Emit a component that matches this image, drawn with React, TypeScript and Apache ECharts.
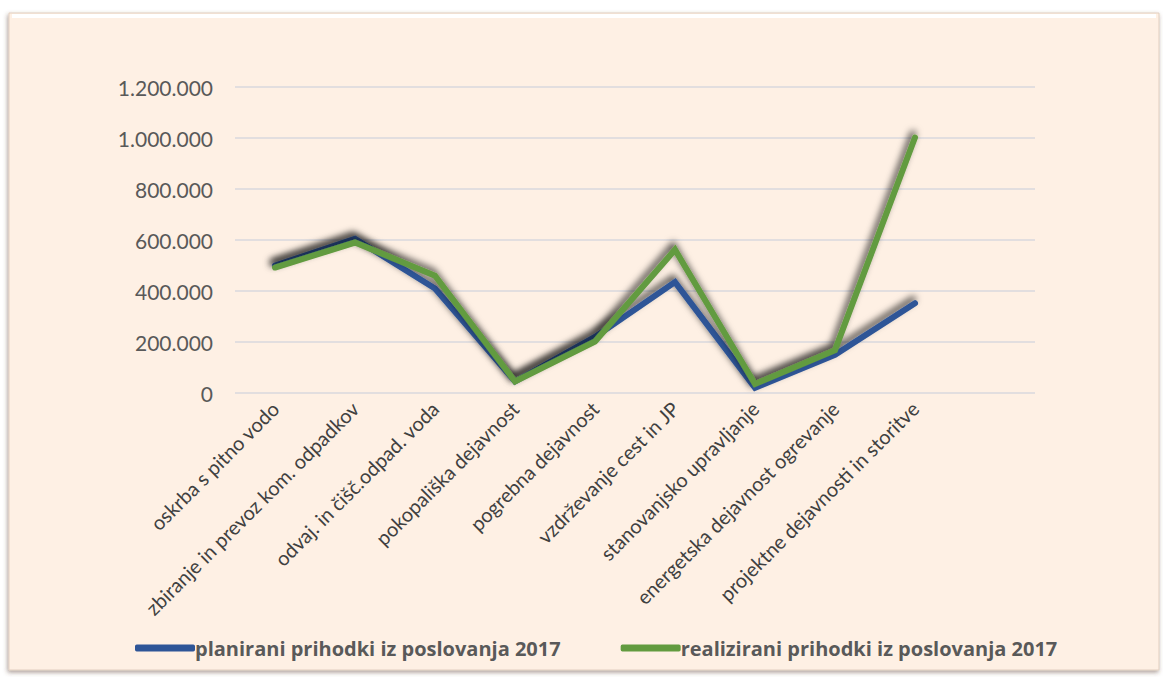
import React, { useEffect, useRef } from "react";
import * as echarts from "echarts";

const categories = [
  "oskrba s pitno vodo",
  "zbiranje in prevoz kom. odpadkov",
  "odvaj. in čišč.odpad. voda",
  "pokopališka dejavnost",
  "pogrebna dejavnost",
  "vzdrževanje cest in JP",
  "stanovanjsko upravljanje",
  "energetska dejavnost ogrevanje",
  "projektne dejavnosti in storitve",
  "",
];
const planirani = [500000, 605000, 410000, 45000, 220000, 435000, 20000, 150000, 352000, null];
const realizirani = [492000, 590000, 460000, 45000, 202000, 562000, 35000, 168000, 1002000, null];
const seriesNames = [
  "planirani prihodki iz poslovanja 2017",
  "realizirani prihodki iz poslovanja 2017",
];

const fmt = (v: number) => String(Math.round(v)).replace(/\B(?=(\d{3})+(?!\d))/g, ".");

export default function App() {
  const ref = useRef<HTMLDivElement>(null);
  useEffect(() => {
    document.body.style.margin = "0";
    const chart = echarts.init(ref.current!, null, { renderer: "svg" });
    const shadow = {
      shadowColor: "rgba(0,0,0,0.7)",
      shadowBlur: 7,
      shadowOffsetX: -2,
      shadowOffsetY: -4,
    };
    chart.setOption({
      animation: false,
      backgroundColor: "#ffffff",
      textStyle: { fontFamily: "Lato, 'Open Sans', sans-serif" },
      graphic: [
        {
          type: "rect",
          z: -10,
          shape: { x: 9, y: 13, width: 1150, height: 657 },
          style: {
            fill: "#FEF0E4",
            stroke: "#e2cfc0",
            lineWidth: 1,
            shadowColor: "rgba(90,60,50,0.5)",
            shadowBlur: 4,
            shadowOffsetX: -1,
            shadowOffsetY: 2,
          },
        },
        {
          type: "polyline",
          z: -9,
          shape: { points: [[12, 16], [1156, 16]] },
          style: { stroke: "#ffffff", lineWidth: 4 },
        },
      ],
      grid: { left: 235, right: 128, top: 87, bottom: 284, containLabel: false },
      legend: {
        bottom: 14,
        left: 130,
        itemWidth: 60,
        itemHeight: 7,
        itemGap: 60,
        icon: "roundRect",
        textStyle: {
          fontSize: 20,
          fontWeight: "bold",
          color: "#595959",
          fontFamily: "'Liberation Sans Narrow', 'Open Sans', sans-serif",
          padding: [0, 0, 0, -5],
        },
        data: seriesNames,
      },
      xAxis: {
        type: "category",
        data: categories,
        boundaryGap: true,
        axisLine: { show: false },
        axisTick: { show: false },
        axisLabel: {
          rotate: 45,
          interval: 0,
          fontSize: 20,
          color: "#404040",
          margin: 12,
        },
      },
      yAxis: {
        type: "value",
        min: 0,
        max: 1200000,
        interval: 200000,
        axisLine: { show: false },
        axisTick: { show: false },
        splitLine: { lineStyle: { color: "#D9D9DE", width: 1.5 } },
        axisLabel: {
          fontSize: 21,
          color: "#595959",
          margin: 22,
          formatter: (v: number) => fmt(v),
        },
      },
      series: [
        {
          name: seriesNames[0],
          type: "line",
          data: planirani,
          symbol: "none",
          itemStyle: { color: "#2E5597" },
          lineStyle: { color: "#2E5597", width: 6, cap: "round", join: "miter", ...shadow },
        },
        {
          name: seriesNames[1],
          type: "line",
          data: realizirani,
          symbol: "none",
          itemStyle: { color: "#629B3F" },
          lineStyle: { color: "#629B3F", width: 6, cap: "round", join: "miter", ...shadow },
        },
      ],
    });
    return () => chart.dispose();
  }, []);
  return <div ref={ref} style={{ width: 1163, height: 677 }} />;
}
